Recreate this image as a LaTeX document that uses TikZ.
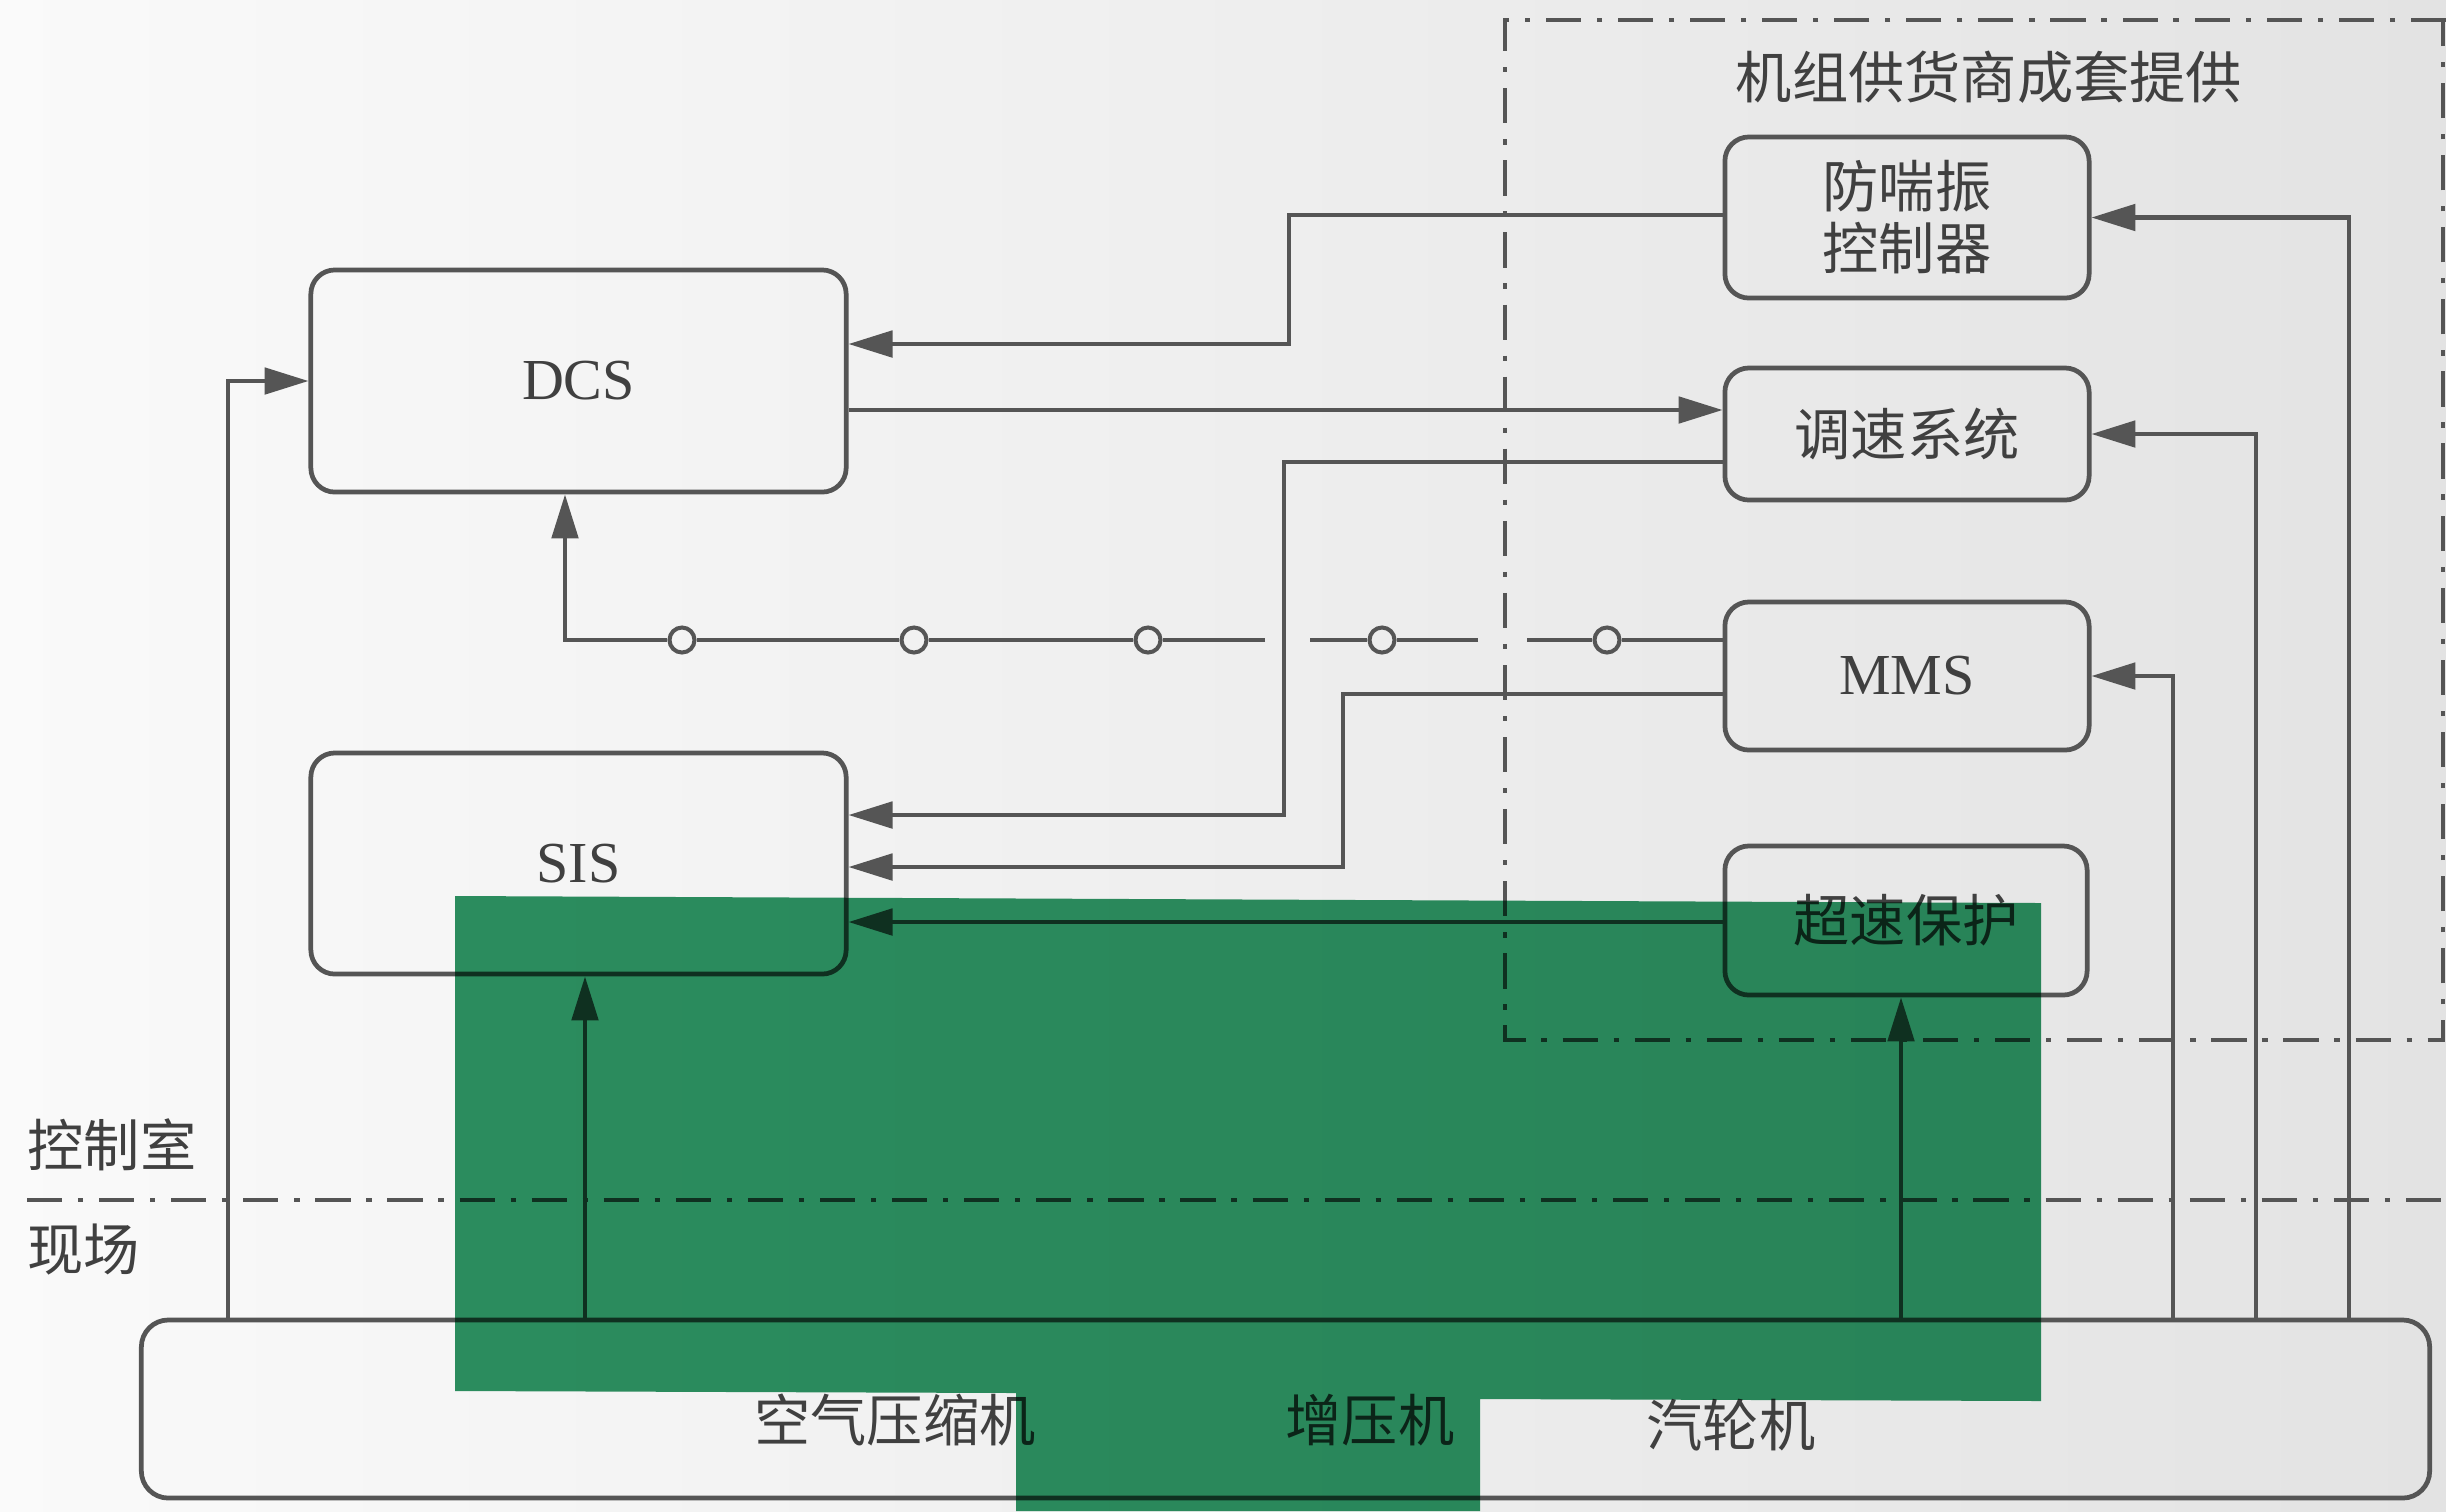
\documentclass[tikz,border=0pt]{standalone}
\usepackage{fontspec}
\setmainfont{Liberation Serif}
\newfontfamily\cjk{Noto Sans CJK SC}
\usetikzlibrary{arrows.meta}
\definecolor{lncol}{HTML}{555555}
\definecolor{txcol}{HTML}{404040}
\definecolor{grn}{HTML}{2D9262}
\begin{document}
\begin{tikzpicture}[x=0.01cm,y=-0.01cm,
  box/.style={draw=lncol, line width=1.35pt, rounded corners=0.24cm, inner sep=0pt, text=txcol},
  conn/.style={draw=lncol, line width=1.15pt},
  arr/.style={draw=lncol, line width=1.15pt, -{Triangle[length=12.5pt,width=7.5pt]}},
  dd/.style={draw=lncol, line width=1.25pt, dash pattern=on 10pt off 4.5pt on 1.5pt off 4.5pt},
  zh/.style={font=\cjk\fontsize{16}{17.6}\selectfont, text=txcol, inner sep=0pt},
  en/.style={font=\fontsize{16.5}{18}\selectfont, text=txcol},
  dot/.style={circle, draw=lncol, line width=1.15pt, minimum size=0.25cm, inner sep=0pt}
]
\useasboundingbox (0,0) rectangle (2446,1511);
\shade[left color=white!98!black, middle color=black!5, right color=black!11] (0,0) rectangle (2446,1511);

% boxes
\node[box, en, minimum width=5.35cm, minimum height=2.22cm] (dcs) at (578.5,381) {DCS};
\node[box, en, minimum width=5.35cm, minimum height=2.21cm] (sis) at (578.5,863.5) {SIS};
\node[box, zh, minimum width=3.64cm, minimum height=1.61cm, align=center] (fc) at (1907,217.5) {防喘振\\控制器};
\node[box, zh, minimum width=3.64cm, minimum height=1.32cm] (ts) at (1907,434) {调速系统};
\node[box, en, minimum width=3.64cm, minimum height=1.48cm] (mms) at (1907,676) {MMS};
\node[box, zh, minimum width=3.62cm, minimum height=1.49cm] (cs) at (1906,920.5) {超速保护};
\node[box, minimum width=22.87cm, minimum height=1.78cm, rounded corners=0.27cm] (mc) at (1285.5,1409) {};

% texts
\node[zh] (t1) at (895,1420) {空气压缩机};
\node[zh] (t2) at (1370,1420) {增压机};
\node[zh] (t3) at (1731,1425) {汽轮机};
\node[zh] (title) at (1989,77) {机组供货商成套提供};
\node[zh, anchor=west] (kz) at (27,1145) {控制室};
\node[zh, anchor=west] (xc) at (27,1250) {现场};

% separators
\draw[dd] (27,1200) -- (2446,1200);
\draw[dd] (2446,20) -- (1505,20) -- (1505,1040) -- (2443,1040) -- (2443,20);

% circle line MMS -> DCS
\node[dot] (c1) at (682,640) {};
\node[dot] (c2) at (914,640) {};
\node[dot] (c3) at (1148,640) {};
\node[dot] (c4) at (1382,640) {};
\node[dot] (c5) at (1607,640) {};
\coordinate (g1) at (1265,640);
\coordinate (g2) at (1310,640);
\coordinate (g3) at (1478,640);
\coordinate (g4) at (1527,640);
\draw[conn] (mms.west |- 0,640) -- (c5);
\draw[conn] (c5) -- (g4);
\draw[conn] (g3) -- (c4);
\draw[conn] (c4) -- (g2);
\draw[conn] (g1) -- (c3);
\draw[conn] (c3) -- (c2);
\draw[conn] (c2) -- (c1);
\draw[arr] (c1) -| (dcs.south -| 565,0);

% connectors
\draw[arr] (fc.west |- 0,215) -- ++(-434,0) |- (dcs.east |- 0,344);
\draw[arr] (dcs.east |- 0,410) -- (ts.west |- 0,410);
\draw[arr] (ts.west |- 0,462) -- ++(-439,0) |- (sis.east |- 0,815);
\draw[arr] (mms.west |- 0,694) -- ++(-380,0) |- (sis.east |- 0,867);
\draw[arr] (cs.west |- 0,922) -- (sis.east |- 0,922);
\draw[arr] (mc.north -| 228,0) |- (dcs.west);
\draw[arr] (mc.north -| 585,0) -- (sis.south -| 585,0);
\draw[arr] (mc.north -| 1901,0) -- (cs.south -| 1901,0);
\draw[arr] (mc.north -| 2173,0) |- (mms.east);
\draw[arr] (mc.north -| 2256,0) |- (ts.east);
\draw[arr] (mc.north -| 2349,0) |- (fc.east);

% green overlay
\begin{scope}[blend mode=multiply]
\fill[grn] (455,896) -- (2041,903) -- (2041,1401) -- (1480,1399) -- (1480,1511) -- (1016,1511) -- (1016,1393) -- (455,1391) -- cycle;
\end{scope}
\end{tikzpicture}
\end{document}
